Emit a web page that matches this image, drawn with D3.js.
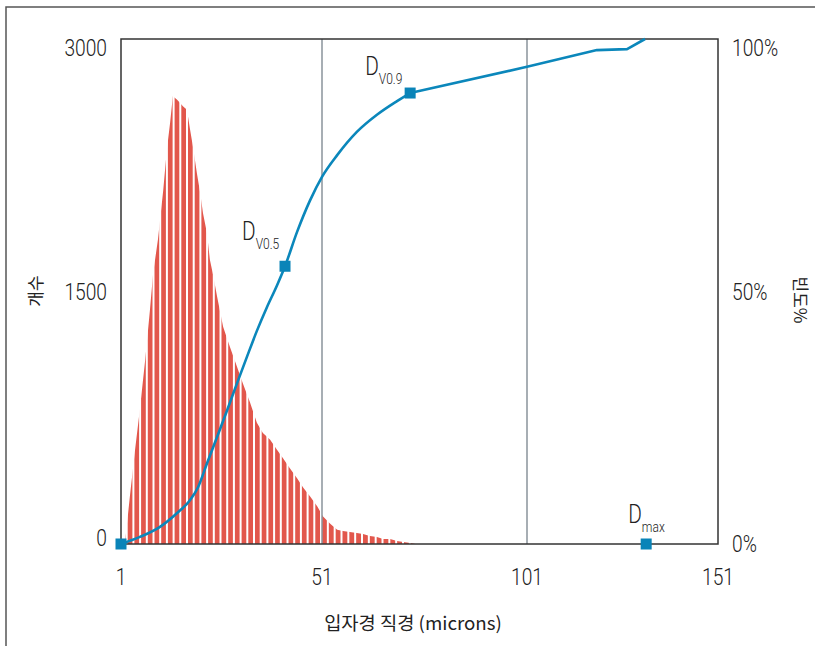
<!DOCTYPE html>
<html>
<head>
<meta charset="utf-8">
<script src="https://cdn.jsdelivr.net/npm/d3@7"></script>
<style>
body { margin: 0; background: #fff; }
text { font-family: Roboto, "Liberation Sans", sans-serif; font-weight: 300; fill: #222; }
.kr { font-family: "Noto Sans CJK KR", sans-serif; font-weight: 400; }
</style>
</head>
<body>
<div id="chart"></div>
<script>
(function() {
// tick labels
var xTicks = [1, 51, 101, 151];
var countTicks = [0, 1500, 3000];
var pctTicks = [0, 50, 100];

// particle count envelope (size in microns -> count)
var sizes = [1, 2, 3.2, 4.5, 5.7, 7, 8.2, 9, 10.2, 11.5, 12.4, 13.2, 13.9, 14.9, 15.7, 16.4, 17.4,
  18.2, 18.9, 19.9, 20.7, 21.4, 22.4, 23.1, 23.9, 24.9, 26.4, 28.1, 29.9, 31.3, 33.1, 34.8, 36.3,
  38.1, 39.8, 41.3, 43, 44.8, 46.3, 48.1, 49.8, 51.2, 53, 54.7, 56.1, 57.8, 59.5, 61, 62.7, 64.4,
  65.9, 67.6, 69.3, 70.8, 72.6, 73.8];
var counts = [0, 10, 280, 560, 800, 1090, 1390, 1610, 1810, 2100, 2340, 2500, 2660, 2640, 2620, 2600, 2580,
  2460, 2360, 2200, 2085, 1965, 1845, 1690, 1600, 1470, 1290, 1170, 1050, 955, 840, 720, 660,
  620, 560, 510, 450, 390, 335, 280, 225, 165, 120, 85, 77, 71, 65, 59, 48, 42,
  30, 30, 18, 12, 6, 0];

// cumulative curve (size in microns -> %), smooth part up to Dv0.9
var cumSizes = [1, 5.7, 10.7, 14.9, 18.2, 20.2, 22.4, 24.9, 27.4, 29.9, 32.3, 34.8, 37.3, 39.8, 41.8,
  44.8, 48, 51, 54.7, 59.5, 64.4, 69.3, 72.5];
var cumPct = [0, 1.4, 3.4, 6.1, 8.7, 11.3, 16, 21.2, 26.5, 31.9, 37, 42.2, 46.9, 51.2, 55,
  61.8, 68, 72.7, 77, 81.6, 85, 87.7, 89.3];
// straight tail after Dv0.9
var tailSizes = [72.5, 101, 119.3, 127.2, 131.9];
var tailPct = [89.3, 94.5, 97.8, 98, 100];

// marked points
var markNames = ["", "V0.5", "V0.9", "max"];
var markSizes = [1, 41.8, 72.5, 132.2];
var markPct = [0, 55, 89.3, 0];
// label offsets from each marker (layout)
var labelDx = [0, -43, -45, -18];
var labelDy = [0, -26, -18, -21];

var binWidth = 150 / 90, nBins = 45;

var width = 815, height = 646;
var left = 121, right = 718, top = 39, bottom = 544;
var squeeze = 0.8;

var svg = d3.select("#chart").append("svg")
    .attr("width", width)
    .attr("height", height);

// scales
var x = d3.scaleLinear().domain(xTicks).range([left, 322, 527, right]);
var yCount = d3.scaleLinear().domain([0, 3000]).range([bottom, top]);
var yPct = d3.scaleLinear().domain([0, 100]).range([bottom, top]);

function place(px, py) {
  return "translate(" + px + "," + py + ") scale(" + squeeze + ",1)";
}

// outer frame (left and top only)
svg.append("path")
    .attr("d", "M6," + height + "V7H" + width)
    .attr("fill", "none")
    .attr("stroke", "#555")
    .attr("stroke-width", 1.5);

// histogram: striped bars clipped to the count envelope
var area = d3.area()
    .x(function(d, i) { return x(sizes[i]); })
    .y0(yCount(0))
    .y1(function(d) { return yCount(d); });

svg.append("clipPath").attr("id", "env")
  .append("path")
    .attr("d", area(counts));

var bins = d3.range(nBins).map(function(i) { return 1 + i * binWidth; });

svg.append("g")
    .attr("clip-path", "url(#env)")
  .selectAll("rect")
  .data(bins)
  .enter().append("rect")
    .attr("x", function(d) { return x(d); })
    .attr("y", top)
    .attr("width", function(d) { return x(d + binWidth) - x(d) - 2; })
    .attr("height", bottom - top)
    .attr("fill", "#e2574c");

// grid lines
svg.selectAll(".grid")
  .data(xTicks.slice(1, 3))
  .enter().append("line")
    .attr("class", "grid")
    .attr("x1", function(d) { return x(d); })
    .attr("x2", function(d) { return x(d); })
    .attr("y1", top)
    .attr("y2", bottom)
    .attr("stroke", "#8a939b")
    .attr("stroke-width", 1.5);

// plot frame
svg.append("rect")
    .attr("x", left)
    .attr("y", top)
    .attr("width", right - left)
    .attr("height", bottom - top)
    .attr("fill", "none")
    .attr("stroke", "#333")
    .attr("stroke-width", 1.5);

// cumulative line
var smooth = d3.line()
    .x(function(d, i) { return x(cumSizes[i]); })
    .y(function(d) { return yPct(d); })
    .curve(d3.curveMonotoneX);
var straight = d3.line()
    .x(function(d, i) { return x(tailSizes[i]); })
    .y(function(d) { return yPct(d); });

svg.append("path")
    .attr("d", smooth(cumPct) + straight(tailPct).replace("M", "L"))
    .attr("fill", "none")
    .attr("stroke", "#0b87bb")
    .attr("stroke-width", 2.6)
    .attr("stroke-linejoin", "round");

// markers
svg.selectAll(".mark")
  .data(markSizes)
  .enter().append("rect")
    .attr("class", "mark")
    .attr("x", function(d) { return x(d) - 5.5; })
    .attr("y", function(d, i) { return yPct(markPct[i]) - 5.5; })
    .attr("width", 11)
    .attr("height", 11)
    .attr("fill", "#0a84b8");

var labels = svg.selectAll(".dlab")
  .data(markSizes.slice(1))
  .enter().append("text")
    .attr("class", "dlab")
    .attr("transform", function(d, i) {
      return place(x(d) + labelDx[i + 1], yPct(markPct[i + 1]) + labelDy[i + 1]);
    })
    .style("font-size", "26px");
labels.append("tspan").text("D");
labels.append("tspan")
    .attr("dy", 9)
    .style("font-size", "15px")
    .text(function(d, i) { return markNames[i + 1]; });

// tick labels
svg.selectAll(".xt")
  .data(xTicks)
  .enter().append("text")
    .attr("transform", function(d) { return place(x(d), 585); })
    .attr("text-anchor", "middle")
    .style("font-size", "24px")
    .text(function(d) { return d; });

svg.selectAll(".yl")
  .data(countTicks)
  .enter().append("text")
    .attr("transform", function(d) {
      return place(107, Math.min(Math.max(yCount(d) + 8, top + 17), bottom + 2));
    })
    .attr("text-anchor", "end")
    .style("font-size", "24px")
    .text(function(d) { return d; });

svg.selectAll(".yr")
  .data(pctTicks)
  .enter().append("text")
    .attr("transform", function(d) { return place(732, Math.max(yPct(d) + 8, top + 17)); })
    .style("font-size", "24px")
    .text(function(d) { return d + "%"; });

// axis titles
svg.append("text")
    .attr("class", "kr")
    .attr("transform", "translate(42,291) rotate(-90)")
    .attr("text-anchor", "middle")
    .style("font-size", "17px")
    .text("개수");

svg.append("text")
    .attr("class", "kr")
    .attr("transform", "translate(794,300) rotate(90)")
    .attr("text-anchor", "middle")
    .style("font-size", "17px")
    .text("빈도%");

svg.append("text")
    .attr("class", "kr")
    .attr("transform", "translate(413,630) scale(1.04,1)")
    .attr("text-anchor", "middle")
    .style("font-size", "18px")
    .text("입자경 직경 (microns)");
})();
</script>
</body>
</html>
